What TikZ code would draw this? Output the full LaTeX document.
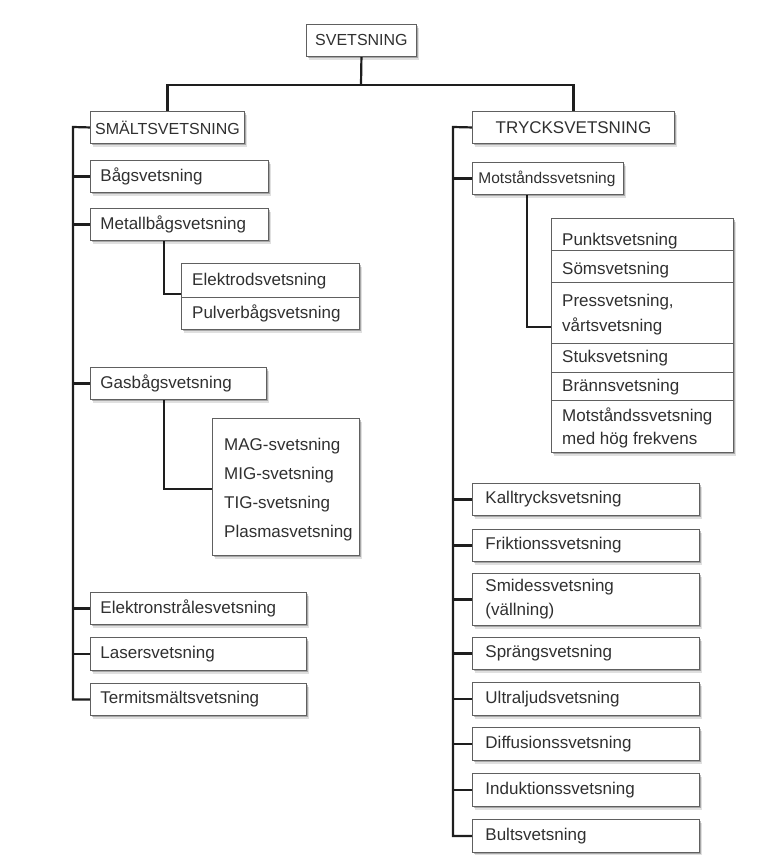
\documentclass[tikz,border=0pt]{standalone}
\usepackage{fontspec}
\setmainfont{Liberation Sans}
\usetikzlibrary{shadows}
\definecolor{txt}{HTML}{303030}
\definecolor{ln}{HTML}{1E1E1E}
\definecolor{bd}{HTML}{606060}
\newcommand\dfont{\fontsize{17}{24}\selectfont}
\newcommand\hfont{\fontsize{16}{20}\selectfont}
\pgfdeclarelayer{bg}
\pgfsetlayers{bg,main}
\begin{document}
\begin{tikzpicture}[x=1pt,y=-1pt,
  box/.style={draw=bd, line width=0.9pt, fill=white,
    general shadow={shadow xshift=3pt, shadow yshift=-4pt, opacity=0.12, fill=black},
    drop shadow={shadow xshift=1.5pt, shadow yshift=-2pt, opacity=0.25, fill=black},
    anchor=north west, text=txt, font=\dfont, inner ysep=0pt},
  lbox/.style={box, align=left, inner xsep=10pt},
  rbox/.style={box, align=left, inner xsep=13pt, text width=201, minimum height=32},
  cbox/.style={box, align=center, font=\hfont},
  conn/.style={draw=ln, line width=2.2pt},
  divl/.style={draw=bd, line width=0.9pt},
  item/.style={anchor=west, text=txt, font=\dfont, inner sep=0pt}]
\useasboundingbox (0,0) rectangle (779,855);

% top
\node[cbox, minimum width=110, minimum height=32] (sv) at (306,24) {SVETSNING};
\node[cbox, minimum width=154, minimum height=32] (sm) at (90,111) {SMÄLTSVETSNING};
\node[cbox, minimum width=202, minimum height=32, font=\dfont] (tr) at (472,111) {TRYCKSVETSNING};

% left branch
\node[lbox, text width=158, minimum height=32] (bag) at (90,160) {Bågsvetsning};
\node[lbox, text width=158, minimum height=32] (met) at (90,208) {Metallbågsvetsning};
\node[box, minimum width=178, minimum height=66] (ep) at (181,263) {};
\draw[divl] (181,297) -- (359,297);
\node[item] (ep1) at (192,281) {Elektrodsvetsning};
\node[item] (ep2) at (192,313) {Pulverbågsvetsning};
\node[lbox, text width=156, minimum height=32] (gas) at (90,367) {Gasbågsvetsning};
\node[box, minimum width=147, minimum height=137] (mag) at (212,418) {};
\node[item] (mag1) at (224,446) {MAG-svetsning};
\node[item] (mag2) at (224,475) {MIG-svetsning};
\node[item] (mag3) at (224,504) {TIG-svetsning};
\node[item] (mag4) at (224,533) {Plasmasvetsning};
\node[lbox, text width=196, minimum height=32] (ele) at (90,592) {Elektronstrålesvetsning};
\node[lbox, text width=196, minimum height=33] (las) at (90,637) {Lasersvetsning};
\node[lbox, text width=196, minimum height=32] (ter) at (90,683) {Termitsmältsvetsning};

% right branch
\node[box, align=left, inner xsep=6pt, text width=139, minimum height=32,
      font=\fontsize{15.5}{20}\selectfont] (mot) at (472,162) {Motståndssvetsning};
\node[box, minimum width=182, minimum height=234] (rb) at (551,218) {};
\draw[divl] (551,250) -- (733,250);
\draw[divl] (551,282) -- (733,282);
\draw[divl] (551,343) -- (733,343);
\draw[divl] (551,372) -- (733,372);
\draw[divl] (551,400) -- (733,400);
\node[item] (r1) at (562,241) {Punktsvetsning};
\node[item] (r2) at (562,270) {Sömsvetsning};
\node[item] (r3) at (562,302) {Pressvetsning,};
\node[item] (r3b) at (562,326) {vårtsvetsning};
\node[item] (r4) at (562,358) {Stuksvetsning};
\node[item] (r5) at (562,387) {Brännsvetsning};
\node[item] (r6) at (562,416) {Motståndssvetsning};
\node[item] (r6b) at (562,440) {med hög frekvens};

\node[rbox] (kal) at (472,483) {Kalltrycksvetsning};
\node[rbox] (fri) at (472,529) {Friktionssvetsning};
\node[rbox, minimum height=52] (smi) at (472,573) {Smidessvetsning\\(vällning)};
\node[rbox] (spr) at (472,637) {Sprängsvetsning};
\node[rbox, minimum height=33] (ult) at (472,682) {Ultraljudsvetsning};
\node[rbox, minimum height=33] (dif) at (472,727) {Diffusionssvetsning};
\node[rbox, minimum height=33] (ind) at (472,773) {Induktionssvetsning};
\node[rbox, minimum height=33] (bul) at (472,819) {Bultsvetsning};

% connectors
\coordinate (bar) at (361,85);
\coordinate (lt) at (73,127);
\coordinate (rt) at (453,127);
\coordinate (c1) at (164,294);
\coordinate (c2) at (164,489);
\coordinate (c3) at (527,327);
\begin{pgfonlayer}{bg}
\draw[conn] (sv.south) -- (bar);
\draw[conn] (sm.north) |- (bar) -| (tr.north);
\draw[conn] (sm.west) -- (lt) |- (ter.west);
\foreach \n in {bag,met,gas,ele,las}
  \draw[conn] (\n.west) -- (\n.west -| lt);
\draw[conn] (tr.west) -- (rt) |- (bul.west);
\foreach \n in {mot,kal,fri,smi,spr,ult,dif,ind}
  \draw[conn] (\n.west) -- (\n.west -| rt);
\draw[conn] (c1 |- met.south) -- (c1) -- (c1 -| ep.west);
\draw[conn] (c2 |- gas.south) -- (c2) -- (c2 -| mag.west);
\draw[conn] (c3 |- mot.south) -- (c3) -- (c3 -| rb.west);
\end{pgfonlayer}
\end{tikzpicture}
\end{document}
